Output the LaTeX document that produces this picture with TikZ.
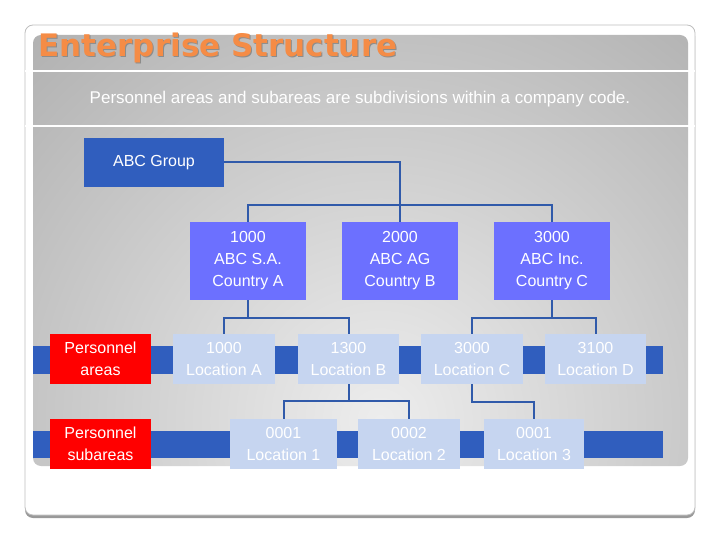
\documentclass[tikz,border=0pt]{standalone}
\usepackage{fontspec}
\setmainfont{Liberation Sans}
\newfontfamily\titlefont{DejaVu Sans}
\usetikzlibrary{positioning}
\definecolor{barblue}{RGB}{48,94,190}
\definecolor{coblue}{RGB}{108,112,255}
\definecolor{paleblue}{RGB}{198,213,240}
\definecolor{linkblue}{RGB}{48,90,170}
\definecolor{titleorange}{RGB}{245,140,70}

\begin{document}
\begin{tikzpicture}[x=1pt, y=-1pt,
  box/.style={align=center, inner sep=0pt, text=white,
    font=\fontsize{16}{22}\selectfont},
  grpbox/.style={box, fill=barblue, minimum width=140pt,
    minimum height=49pt},
  cobox/.style={box, fill=coblue, minimum width=116pt,
    minimum height=78pt},
  locbox/.style={box, fill=paleblue, minimum height=50pt},
  levelbox/.style={box, fill=red, minimum width=101pt,
    minimum height=50pt},
  bar/.style={fill=barblue},
  link/.style={draw=linkblue, line width=2pt}]
\useasboundingbox (0,0) rectangle (720,540);

% slide frame and grey panel
\fill[black!40, rounded corners=8pt] (25,28) rectangle (695,518);
\filldraw[fill=white, draw=black!25, line width=0.8pt, rounded corners=8pt]
  (25,25) rectangle (695,515);
\begin{scope}
  \clip[rounded corners=8pt] (33,35) rectangle (688,466);
  \shade[inner color=black!7, outer color=black!36] (380,420) circle (640);
\end{scope}
\draw[white, line width=1.5pt] (25,71) -- (695,71);
\draw[white, line width=1.5pt] (25,126) -- (695,126);

\node[anchor=west, text=black!45, font=\titlefont\bfseries\fontsize{31}{31}\selectfont]
  (titleshadow) at (36,49) {Enterprise Structure};
\node[anchor=west, text=titleorange, font=\titlefont\bfseries\fontsize{31}{31}\selectfont]
  (title) at (35,48) {Enterprise Structure};
\node[text=white, font=\fontsize{17}{17}\selectfont] (sub) at (360,99)
  {Personnel areas and subareas are subdivisions within a company code.};

% level bars
\fill[bar] (33,346) rectangle (663,374);
\fill[bar] (33,431) rectangle (663,458);

% boxes
\node[grpbox] (grp) at (154,162.5) {ABC Group};
\node[cobox] (c1) at (248,261) {1000\\ABC S.A.\\Country A};
\node[cobox] (c2) at (400,261) {2000\\ABC AG\\Country B};
\node[cobox] (c3) at (552,261) {3000\\ABC Inc.\\Country C};

\node[levelbox] (pa) at (100.5,359) {Personnel\\areas};
\node[locbox, minimum width=102pt] (la) at (224,359) {1000\\Location A};
\node[locbox, minimum width=101pt] (lb) at (348.5,359) {1300\\Location B};
\node[locbox, minimum width=102pt] (lc) at (472,359) {3000\\Location C};
\node[locbox, minimum width=101pt] (ld) at (595.5,359) {3100\\Location D};

\node[levelbox] (ps) at (100.5,444) {Personnel\\subareas};
\node[locbox, minimum width=107pt] (s1) at (283.5,444) {0001\\Location 1};
\node[locbox, minimum width=102pt] (s2) at (409,444) {0002\\Location 2};
\node[locbox, minimum width=100pt] (s3) at (534,444) {0001\\Location 3};

% connectors
\coordinate (busA) at (400,205);
\coordinate (busB) at (248,318);
\coordinate (busC) at (552,318);
\coordinate (busD) at (348.5,401);
\coordinate (busE) at (472,402);
\draw[link] (grp.east) -| (c2.north);
\draw[link] (c1.north) |- (busA) -| (c3.north);
\draw[link] (c1.south) -- (busB);
\draw[link] (la.north) |- (busB) -| (lb.north);
\draw[link] (c3.south) -- (busC);
\draw[link] (lc.north) |- (busC) -| (ld.north);
\draw[link] (lb.south) -- (busD);
\draw[link] (s1.north) |- (busD) -| (s2.north);
\draw[link] (lc.south) -- (busE) -| (s3.north);
\end{tikzpicture}
\end{document}
